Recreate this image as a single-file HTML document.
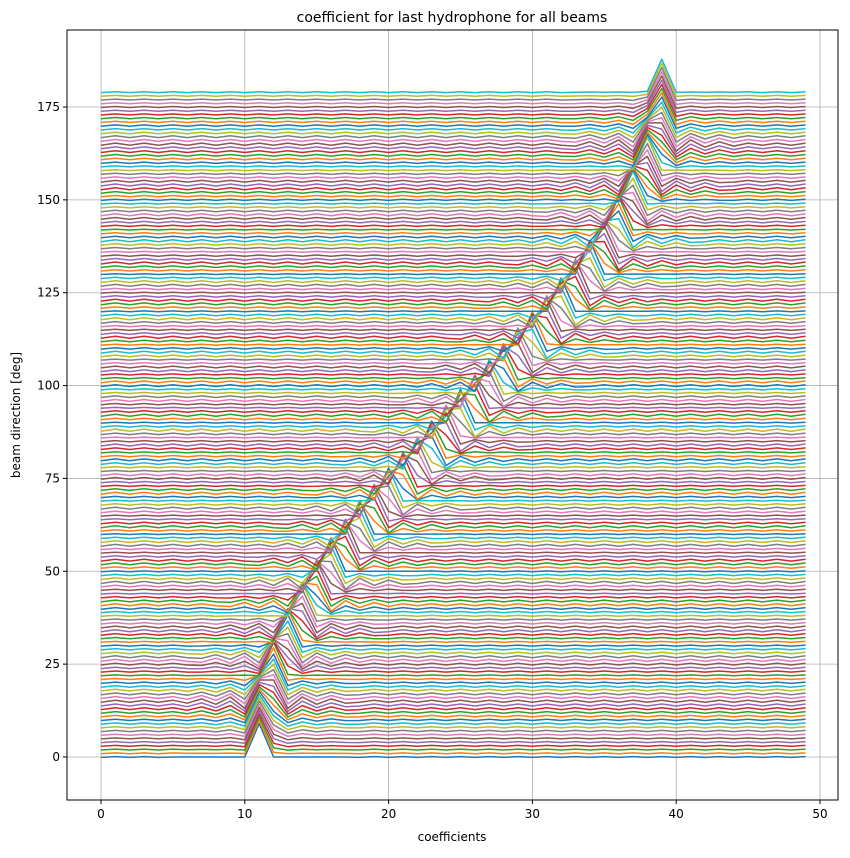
<!DOCTYPE html>
<html><head><meta charset="utf-8"><style>
body{margin:0;background:#fff;font-family:"Liberation Sans","DejaVu Sans",sans-serif}
svg text{font-family:"DejaVu Sans","Liberation Sans",sans-serif}
</style></head><body>
<svg id="chart" width="850" height="853" xmlns="http://www.w3.org/2000/svg">
<rect width="850" height="853" fill="#fff"/>
<g id="grid"></g><g id="lines"></g><g id="axes"></g>
<text x="452" y="22" text-anchor="middle" font-size="14">coefficient for last hydrophone for all beams</text>
<text x="452" y="841" text-anchor="middle" font-size="12">coefficients</text>
<text x="20" y="415" text-anchor="middle" font-size="12" transform="rotate(-90 20 415)">beam direction [deg]</text>
</svg>
<script>
const xTicks=[0,10,20,30,40,50];
const yTicks=[0,25,50,75,100,125,150,175];
const beamCount=180;
const coefCount=50;
// peak coefficient position sampled every 10 deg of beam direction
const peakAnchors=[11,11.2,11.8,12.9,14.3,16.0,18.0,20.2,22.6,25,27.4,29.8,32,34,35.7,37.1,38.2,38.8,39];
// kernel values at half-step offsets from -6 to 6
const kernel=[0,-0.52,0,0.64,0,-0.82,0,1.15,0,-1.91,0,5.73,9,5.73,0,-1.91,0,1.15,0,-0.82,0,0.64,0,-0.52,0];
const rippleAmp=[0.35];
const colors=["#1f77b4","#ff7f0e","#2ca02c","#d62728","#9467bd","#8c564b","#e377c2","#7f7f7f","#bcbd22","#17becf"];
const L=67,R=838,T=30,B=800;
const xS=v=>101+v*(820-101)/50;
const yS=v=>757-v*(757-107)/175;
const NS="http://www.w3.org/2000/svg";
const grid=document.getElementById('grid'),axes=document.getElementById('axes'),lines=document.getElementById('lines');
function mk(t,a,p){const e=document.createElementNS(NS,t);for(const k in a)e.setAttribute(k,a[k]);p.appendChild(e);return e;}
xTicks.forEach(v=>{
 const g=mk('line',{x1:xS(v),x2:xS(v),y1:T,y2:B,stroke:'#b0b0b0','stroke-width':0.8},grid);
 
 
 mk('line',{x1:xS(v),x2:xS(v),y1:B,y2:B+4,stroke:'#000'},axes);
 const t=mk('text',{x:xS(v),y:B+18,'text-anchor':'middle','font-size':12},axes);t.textContent=v;
 
 
});
yTicks.forEach(v=>{
 const g=mk('line',{x1:L,x2:R,y1:yS(v),y2:yS(v),stroke:'#b0b0b0','stroke-width':0.8},grid);
 
 
 mk('line',{x1:L-4,x2:L,y1:yS(v),y2:yS(v),stroke:'#000'},axes);
 const t=mk('text',{x:L-7,y:yS(v)+4,'text-anchor':'end','font-size':12},axes);t.textContent=v;
 
 
});
const fr=mk('rect',{x:L,y:T,width:R-L,height:B-T,fill:'none',stroke:'#000','stroke-width':1},axes);


function peakOf(b){const f=b/10,i=Math.min(Math.floor(f),peakAnchors.length-2),t=f-i;return peakAnchors[i]*(1-t)+peakAnchors[i+1]*t;}
function kern(d){const h=(d+6)*2;if(h<0||h>kernel.length-1)return 0;const i=Math.floor(h),t=h-i;return kernel[i]*(1-t)+(kernel[Math.min(i+1,kernel.length-1)])*t;}
for(let b=0;b<beamCount;b++){
 const p=peakOf(b);const frac=Math.abs(p-Math.round(p));
 let d='';
 for(let k=0;k<coefCount;k++){
  let v=b+kern(k-p);
  if(Math.abs(k-p)>6)v+=((k%2)?1:-1)*rippleAmp[0]*(0.3+frac);
  d+=(k?'L':'M')+xS(k).toFixed(1)+' '+yS(v).toFixed(1);
 }
 const pl=mk('path',{d:d,fill:'none',stroke:colors[b%10],'stroke-width':1.5,'stroke-linejoin':'round'},lines);
 
 
}
</script>
</body></html>
